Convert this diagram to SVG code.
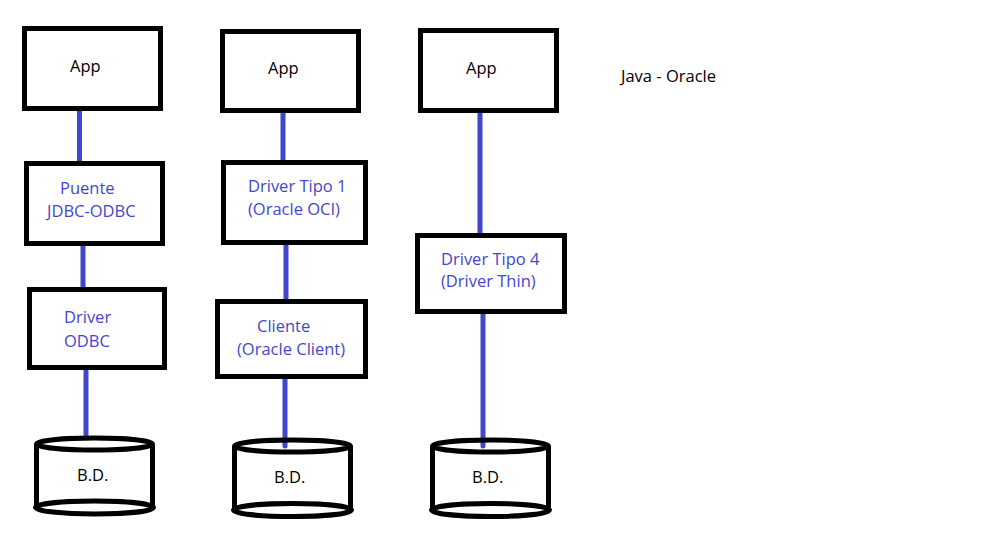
<svg xmlns="http://www.w3.org/2000/svg" width="1000" height="551" viewBox="0 0 1000 551">
<style>
.box{fill:#fff;stroke:#000;stroke-width:5}
.db{fill:none;stroke:#000;stroke-width:5}
.conn{stroke:#3f48cc;stroke-width:5;stroke-linecap:round;fill:none}
text{font-family:"Open Sans","Noto Sans",sans-serif;font-size:16.5px}
.k{fill:#000}
.b{fill:#3f48cc}
</style>
<rect width="1000" height="551" fill="#fff"/>
<g id="connectors">
<line class="conn" x1="79.5" y1="110" x2="79.5" y2="162"/>
<line class="conn" x1="83" y1="244" x2="83" y2="287"/>
<line class="conn" x1="86" y1="368" x2="86" y2="437"/>
<line class="conn" x1="283" y1="112" x2="283" y2="161"/>
<line class="conn" x1="286" y1="244" x2="286" y2="301"/>
<line class="conn" x1="285" y1="378" x2="285" y2="446"/>
<line class="conn" x1="480" y1="112" x2="480" y2="234"/>
<line class="conn" x1="483" y1="312" x2="483" y2="446"/>
</g>
<g id="app1"><rect class="box" x="24.5" y="28.5" width="136" height="80"/><text class="k" x="70" y="72">App</text></g>
<g id="puente"><rect class="box" x="26.5" y="163.5" width="136" height="80"/><text class="b" x="60" y="194">Puente</text><text class="b" x="47" y="217">JDBC-ODBC</text></g>
<g id="odbc"><rect class="box" x="29.5" y="289.5" width="135" height="78"/><text class="b" x="64" y="323">Driver</text><text class="b" x="64" y="347">ODBC</text></g>
<g id="db1"><path class="db" d="M36.5 444 V507 M152.5 444 V507"/><ellipse class="db" cx="94.5" cy="444" rx="58" ry="6"/><ellipse class="db" cx="94.5" cy="507.5" rx="59" ry="6.5"/><text class="k" x="77" y="481">B.D.</text></g>
<g id="app2"><rect class="box" x="222.5" y="31.5" width="136" height="79"/><text class="k" x="268" y="74">App</text></g>
<g id="tipo1"><rect class="box" x="223.5" y="162.5" width="142" height="80"/><text class="b" x="248" y="192">Driver Tipo 1</text><text class="b" x="248" y="215">(Oracle OCI)</text></g>
<g id="cliente"><rect class="box" x="217.5" y="301.5" width="148" height="75"/><text class="b" x="257" y="332">Cliente</text><text class="b" x="237" y="355">(Oracle Client)</text></g>
<g id="db2"><path class="db" d="M234.5 446 V510 M350.5 446 V510"/><ellipse class="db" cx="292.5" cy="446" rx="58" ry="6"/><ellipse class="db" cx="292.5" cy="510" rx="59" ry="6.5"/><text class="k" x="274" y="483">B.D.</text></g>
<g id="app3"><rect class="box" x="420.5" y="30.5" width="136" height="80"/><text class="k" x="466" y="74">App</text></g>
<g id="tipo4"><rect class="box" x="417.5" y="235.5" width="147" height="76"/><text class="b" x="441" y="265">Driver Tipo 4</text><text class="b" x="441" y="287">(Driver Thin)</text></g>
<g id="db3"><path class="db" d="M432.5 446 V510 M548.5 446 V510"/><ellipse class="db" cx="490.5" cy="446" rx="58" ry="6"/><ellipse class="db" cx="490.5" cy="510" rx="59" ry="6.5"/><text class="k" x="472" y="483">B.D.</text></g>
<g id="title"><text class="k" x="621" y="82">Java - Oracle</text></g>
</svg>
